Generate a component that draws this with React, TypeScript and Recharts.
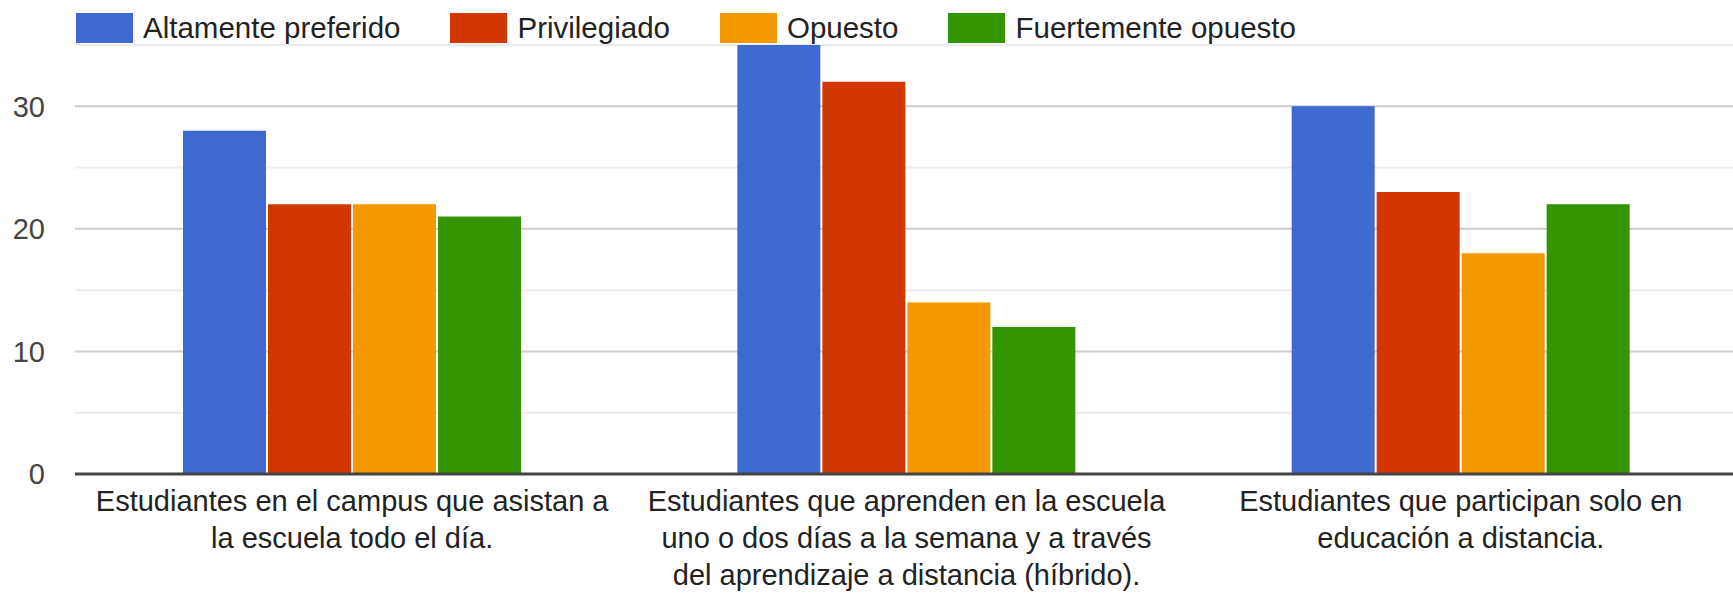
import React from 'react';
import { BarChart, Bar, XAxis, YAxis, CartesianGrid } from 'recharts';

const categories = ['campus', 'hibrido', 'distancia'];
const categoryLines = [
  ['Estudiantes en el campus que asistan a', 'la escuela todo el día.'],
  ['Estudiantes que aprenden en la escuela', 'uno o dos días a la semana y a través', 'del aprendizaje a distancia (híbrido).'],
  ['Estudiantes que participan solo en', 'educación a distancia.'],
];

const altamentePreferido = [28, 35, 30];
const privilegiado = [22, 32, 23];
const opuesto = [22, 14, 18];
const fuertementeOpuesto = [21, 12, 22];

const yTicks = [0, 10, 20, 30];
const majorGrid = [10, 20, 30];
const minorGrid = [5, 15, 25, 35];

const series = [
  { key: 'altamente', name: 'Altamente preferido', color: '#3e69d0' },
  { key: 'privilegiado', name: 'Privilegiado', color: '#d23700' },
  { key: 'opuesto', name: 'Opuesto', color: '#f59900' },
  { key: 'fuertemente', name: 'Fuertemente opuesto', color: '#339600' },
];

const data = categories.map((c, i) => ({
  category: c,
  altamente: altamentePreferido[i],
  privilegiado: privilegiado[i],
  opuesto: opuesto[i],
  fuertemente: fuertementeOpuesto[i],
}));

const FONT = '"Liberation Sans", Arial, sans-serif';

const CategoryTick = (props: any) => {
  const { x, y, index } = props;
  const lines = categoryLines[index] || [];
  return (
    <text x={x} y={y + 37} textAnchor="middle" fill="#222" fontSize={29} fontFamily={FONT}>
      {lines.map((line, i) => (
        <tspan key={i} x={x} dy={i === 0 ? 0 : 37}>
          {line}
        </tspan>
      ))}
    </text>
  );
};

// legend sits over the top of the plot, outside recharts' layout
const ChartLegend = () => (
  <div
    style={{
      position: 'absolute',
      top: 13,
      left: 76,
      height: 30,
      display: 'flex',
      alignItems: 'center',
      fontFamily: FONT,
      fontSize: 29.5,
      color: '#222',
      zIndex: 2,
    }}
  >
    {series.map((s) => (
      <div key={s.key} style={{ display: 'flex', alignItems: 'center', marginRight: 50 }}>
        <div style={{ width: 57, height: 30, background: s.color, marginRight: 10 }} />
        <span>{s.name}</span>
      </div>
    ))}
  </div>
);

export default function App() {
  return (
    <div style={{ position: 'absolute', left: 0, top: 0, width: 1733, height: 593, overflow: 'hidden', background: '#fff' }}>
      <BarChart
        width={1738}
        height={593}
        data={data}
        margin={{ top: 45, right: 0, bottom: 0, left: 0 }}
        barGap={2}
        barSize={83}
      >
        <CartesianGrid vertical={false} horizontalValues={minorGrid} stroke="#ebebeb" strokeWidth={2} />
        <CartesianGrid vertical={false} horizontalValues={majorGrid} stroke="#cccccc" strokeWidth={2} />
        <XAxis
          dataKey="category"
          interval={0}
          height={119}
          tickSize={0}
          tickMargin={0}
          tick={<CategoryTick />}
          axisLine={{ stroke: '#444', strokeWidth: 3 }}
        />
        <YAxis
          width={75}
          domain={[0, 35]}
          ticks={yTicks}
          tickSize={0}
          tickMargin={30}
          axisLine={false}
          tick={{ fill: '#444', fontSize: 29, fontFamily: FONT }}
        />
        {series.map((s) => (
          <Bar key={s.key} dataKey={s.key} name={s.name} fill={s.color} isAnimationActive={false} />
        ))}
      </BarChart>
      <ChartLegend />
    </div>
  );
}
